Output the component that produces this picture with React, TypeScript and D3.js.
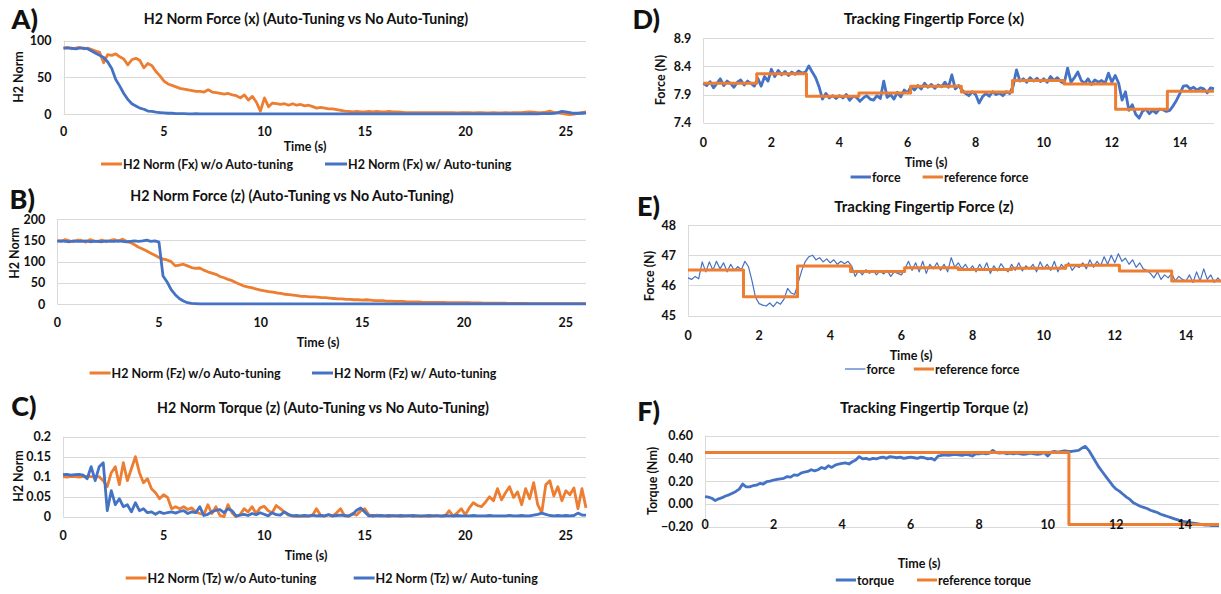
import React from "react";
import * as d3 from "d3";

// sample spacing of the logged runs (s)
const dtLeft = 0.2;
const dtRight = 0.1;

const leftTimeTicks = [0, 5, 10, 15, 20, 25];
const rightTimeTicks = [0, 2, 4, 6, 8, 10, 12, 14];

// A) H2 norm of Fx
const fxWithout = [
  90, 91, 89, 90, 91, 89, 90, 88, 86, 84,
  70, 81, 80, 82, 78, 75, 67, 74, 76, 73,
  63, 69, 66, 58, 52, 45, 41, 39, 37, 35,
  34, 33, 32, 31, 31, 30, 33, 30, 29, 28,
  27, 28, 26, 25, 22, 26, 19, 24, 16, 4,
  22, 10, 15, 14, 13, 14, 12, 14, 12, 13,
  11, 12, 10, 8, 9, 8, 7, 7, 6, 5,
  4, 3.5, 3, 3.5, 3, 3, 3.5, 3, 3.5, 3,
  3, 3.5, 3, 3, 2.5, 2, 2, 2, 2, 2,
  2, 2, 2, 2, 2, 2, 2, 2, 1.5, 2,
  2, 2, 1.5, 2, 2, 1.5, 1.5, 2, 1.5, 1.5,
  2, 1.5, 2, 2, 2, 2.5, 3, 2.5, 2, 2,
  2.5, 4, 2, 2, 1, 0, -1, 0, 1, 2,
  3,
];
const fxWith = [
  90, 90, 90, 89, 90, 90, 89, 86, 83, 80,
  77, 71, 62, 47, 38, 28, 20, 14, 11, 8,
  6.5, 4, 3.5, 2.5, 2, 1.5, 1, 1, 0.5, 0.5,
  0.4, 0.3, 0.3, 0.4, 0.3, 0.3, 0.2, 0.3, 0.3, 0.2,
  0.3, 0.3, 0.2, 0.3, 0.3, 0.2, 0.3, 0.3, 0.3, 0.2,
  0.3, 0.2, 0.3, 0.3, 0.2, 0.3, 0.3, 0.2, 0.3, 0.3,
  0.2, 0.3, 0.3, 0.2, 0.3, 0.3, 0.3, 0.2, 0.3, 0.3,
  0.3, 0.2, 0.3, 0.3, 0.2, 0.3, 0.3, 0.3, 0.2, 0.3,
  0.3, 0.3, 0.2, 0.3, 0.3, 0.2, 0.3, 0.3, 0.3, 0.2,
  0.3, 0.2, 0.3, 0.3, 0.3, 0.2, 0.3, 0.3, 0.2, 0.3,
  0.3, 0.3, 0.2, 0.3, 0.3, 0.3, 0.2, 0.3, 0.3, 0.3,
  0.3, 0.2, 0.3, 0.3, 0.3, 0.2, 0.4, 0.3, 0.3, 0.4,
  0.5, 0.5, 1, 2, 3.5, 3, 2, 1, 1, 1,
  1.5,
];

// B) H2 norm of Fz
const fzWithout = [
  150, 148, 152, 149, 147, 151, 150, 146, 152, 149,
  148, 151, 147, 150, 152, 148, 153, 148, 145, 140,
  134, 130, 125, 120, 115, 110, 106, 104, 100, 90,
  92, 94, 90, 86, 84, 85, 80, 76, 73, 70,
  65, 62, 58, 55, 50, 46, 42, 40, 38, 35,
  33, 31, 29, 28, 26, 25, 23, 22, 21, 20,
  18, 18, 17, 17, 16, 15, 15, 14, 13, 12,
  12, 11, 11, 10, 10, 9, 10, 9, 8, 8,
  8, 7, 7, 6, 6, 6, 5, 5, 5, 5,
  4, 4, 4, 4, 3.5, 3.5, 3, 3, 3, 3,
  3, 3, 2.5, 2.5, 2.5, 2, 2, 2, 2, 2,
  2, 1.5, 1.5, 1.5, 1.5, 1.5, 1, 1, 1, 1,
  1, 1, 1, 1, 1, 1, 1, 1, 1, 1,
  1,
];
const fzWith = [
  148, 149, 148, 147, 149, 148, 148, 149, 147, 148,
  148, 147, 149, 148, 148, 149, 148, 147, 148, 149,
  148, 149, 151, 148, 149, 146, 66, 52, 34, 22,
  13, 7, 3, 1.5, 1, 0.5, 0.5, 0.5, 0.5, 0.5,
  0.3, 0.3, 0.3, 0.3, 0.3, 0.3, 0.3, 0.3, 0.3, 0.3,
  0.3, 0.3, 0.3, 0.3, 0.3, 0.3, 0.3, 0.3, 0.3, 0.3,
  0.3, 0.3, 0.3, 0.3, 0.3, 0.3, 0.3, 0.3, 0.3, 0.3,
  0.3, 0.3, 0.3, 0.3, 0.3, 0.3, 0.3, 0.3, 0.3, 0.3,
  0.3, 0.3, 0.3, 0.3, 0.3, 0.3, 0.3, 0.3, 0.3, 0.3,
  0.3, 0.3, 0.3, 0.3, 0.3, 0.3, 0.3, 0.3, 0.3, 0.3,
  0.3, 0.3, 0.3, 0.3, 0.3, 0.3, 0.3, 0.3, 0.3, 0.3,
  0.3, 0.3, 0.3, 0.3, 0.3, 0.3, 0.3, 0.3, 0.3, 0.3,
  0.3, 0.3, 0.3, 0.3, 0.3, 0.3, 0.3, 0.3, 0.3, 0.3,
  0.3,
];

// C) H2 norm of Tz
const tzWithout = [
  0.1, 0.099, 0.101, 0.1, 0.099, 0.1, 0.101, 0.1, 0.099, 0.1,
  0.09, 0.075, 0.11, 0.125, 0.08, 0.135, 0.09, 0.12, 0.15, 0.11,
  0.085, 0.095, 0.07, 0.06, 0.045, 0.055, 0.048, 0.02, 0.025, 0.02,
  0.025, 0.018, 0.022, 0.012, 0.008, 0.005, 0.03, 0.008, 0.025, 0.003,
  0.0, 0.03, 0.01, 0.0, 0.005, 0.02, 0.012, 0.025, 0.008, 0.022,
  0.026, 0.015, 0.01, 0.028, 0.02, 0.012, 0.004, 0.002, 0.001, 0.001,
  0.002, 0.001, 0.003, 0.02, 0.004, 0.001, 0.005, 0.001, 0.01, 0.02,
  0.002, 0.001, 0.008, 0.004, 0.015, 0.02, 0.005, 0.001, 0.004, 0.002,
  0.002, 0.001, 0.003, 0.002, 0.001, 0.002, 0.003, 0.001, 0.002, 0.001,
  0.002, 0.001, 0.002, 0.003, 0.001, 0.002, 0.015, 0.001, 0.01, 0.02,
  0.005, 0.022, 0.035, 0.028, 0.025, 0.036, 0.05, 0.04, 0.07, 0.042,
  0.06, 0.075, 0.048, 0.062, 0.03, 0.07, 0.045, 0.085, 0.03, 0.01,
  0.08, 0.09, 0.052, 0.075, 0.04, 0.065, 0.055, 0.072, 0.02, 0.07,
  0.022,
];
const tzWith = [
  0.105, 0.106, 0.104, 0.105, 0.106, 0.104, 0.095, 0.125, 0.09, 0.125,
  0.135, 0.015, 0.065, 0.03, 0.045, 0.025, 0.03, 0.012, 0.035, 0.015,
  0.02, 0.01, 0.012, 0.006, 0.012, 0.008, 0.01, 0.012, 0.009, 0.013,
  0.015, 0.008, 0.012, 0.01, 0.025, 0.003, 0.006, 0.012, 0.016, 0.018,
  0.01, 0.02, 0.015, 0.002, 0.004, 0.006, 0.003, 0.008, 0.005, 0.01,
  0.006, 0.002, 0.01, 0.005, 0.004, 0.012, 0.006, 0.002, 0.003, 0.002,
  0.003, 0.002, 0.004, 0.002, 0.003, 0.002, 0.005, 0.002, 0.003, 0.004,
  0.003, 0.002, 0.006, 0.016, 0.022, 0.012, 0.002, 0.003, 0.002, 0.003,
  0.002, 0.003, 0.002, 0.002, 0.003, 0.002, 0.002, 0.003, 0.002, 0.002,
  0.002, 0.003, 0.002, 0.002, 0.002, 0.003, 0.002, 0.002, 0.003, 0.002,
  0.002, 0.002, 0.003, 0.002, 0.002, 0.002, 0.003, 0.002, 0.002, 0.002,
  0.002, 0.003, 0.002, 0.002, 0.003, 0.002, 0.002, 0.004, 0.006, 0.009,
  0.006, 0.003, 0.002, 0.003, 0.002, 0.003, 0.002, 0.003, 0.009, 0.004,
  0.004,
];

// D) fingertip force x
const forceX = [
  8.10, 8.06, 8.13, 8.02, 8.10, 8.18, 8.06, 8.14, 8.10, 8.03,
  8.12, 8.16, 8.07, 8.14, 8.10, 8.05, 8.19, 8.05, 8.22, 8.14,
  8.35, 8.22, 8.33, 8.25, 8.31, 8.24, 8.30, 8.26, 8.32, 8.28,
  8.30, 8.41, 8.30, 8.20, 8.04, 7.82, 7.92, 7.84, 7.88, 7.83,
  7.88, 7.84, 7.90, 7.80, 7.87, 7.85, 7.78, 7.84, 7.88, 7.82,
  7.80, 7.88, 7.83, 8.14, 7.85, 7.90, 7.82, 7.94, 7.86, 7.98,
  7.93, 8.04, 7.98, 8.06, 8.00, 8.10, 8.03, 8.08, 8.01, 8.07,
  8.04, 8.12, 8.03, 8.25, 8.00, 8.06, 7.98, 7.92, 7.88, 7.95,
  7.90, 7.75, 7.86, 7.92, 7.87, 7.95, 7.90, 7.93, 7.88, 7.95,
  7.92, 8.05, 8.34, 8.14, 8.18, 8.12, 8.20, 8.14, 8.19, 8.13,
  8.18, 8.12, 8.22, 8.15, 8.20, 8.13, 8.10, 8.37, 8.12, 8.20,
  8.30, 8.15, 8.10, 8.18, 8.08, 8.16, 8.12, 8.15, 8.10, 8.28,
  8.12, 8.24, 8.10, 7.80, 7.95, 7.62, 7.72, 7.55, 7.48, 7.60,
  7.64, 7.56, 7.62, 7.57, 7.64, 7.63, 7.60, 7.62, 7.70, 7.80,
  7.92, 8.05, 8.06, 8.00, 8.03, 7.98, 8.02, 8.00, 7.93, 8.02,
  8.00,
];
const refXTimes = [0, 1.57, 3.03, 4.57, 6.09, 7.58, 9.08, 10.6, 12.11, 13.63, 15];
const refXLevels = [8.10, 8.27, 7.87, 7.93, 8.05, 7.945, 8.15, 8.09, 7.64, 7.96, 7.96];

// E) fingertip force z
const forceZ = [
  46.25, 46.20, 46.30, 46.22, 46.78, 46.45, 46.78, 46.50, 46.80, 46.55,
  46.75, 46.45, 46.70, 46.50, 46.62, 46.52, 46.80, 46.62, 46.15, 45.60,
  45.40, 45.35, 45.32, 45.42, 45.30, 45.45, 45.38, 45.55, 45.90, 45.75,
  45.70, 46.10, 46.50, 46.80, 46.95, 47.00, 46.85, 46.92, 46.78, 46.88,
  46.75, 46.85, 46.70, 46.80, 46.72, 46.80, 46.65, 46.30, 46.50, 46.35,
  46.52, 46.40, 46.50, 46.35, 46.48, 46.38, 46.50, 46.30, 46.45, 46.40,
  46.35, 46.55, 46.80, 46.50, 46.75, 46.45, 46.80, 46.40, 46.70, 46.55,
  46.75, 46.50, 46.70, 46.45, 46.92, 46.60, 46.75, 46.55, 46.70, 46.50,
  46.65, 46.45, 46.70, 46.50, 46.75, 46.40, 46.65, 46.48, 46.72, 46.55,
  46.45, 46.70, 46.50, 46.75, 46.48, 46.65, 46.55, 46.70, 46.45, 46.78,
  46.55, 46.70, 46.50, 46.80, 46.45, 46.70, 46.55, 46.75, 46.50, 46.65,
  46.60, 46.75, 46.55, 46.85, 46.60, 46.80, 46.65, 46.95, 46.70, 47.00,
  46.75, 47.05, 46.80, 46.90, 46.70, 46.85, 46.60, 46.75, 46.55, 46.50,
  46.40, 46.25, 46.45, 46.20, 46.35, 46.25, 46.40, 46.15, 46.30, 46.20,
  46.15, 46.35, 46.10, 46.45, 46.15, 46.55, 46.20, 46.35, 46.10, 46.25,
  46.10,
];
const refZTimes = [0, 1.56, 3.08, 4.57, 6.09, 7.6, 9.1, 10.62, 12.13, 13.6, 15];
const refZLevels = [46.51, 45.63, 46.64, 46.46, 46.59, 46.53, 46.57, 46.67, 46.48, 46.15, 46.15];

// F) fingertip torque z
const torqueZ = [
  0.065, 0.06, 0.05, 0.03, 0.045, 0.055, 0.07, 0.08, 0.095, 0.11,
  0.13, 0.175, 0.15, 0.15, 0.16, 0.165, 0.18, 0.175, 0.195, 0.2,
  0.21, 0.215, 0.22, 0.225, 0.24, 0.235, 0.255, 0.25, 0.27, 0.28,
  0.285, 0.3, 0.29, 0.3, 0.32, 0.31, 0.335, 0.32, 0.34, 0.35,
  0.355, 0.36, 0.35, 0.37, 0.385, 0.415, 0.395, 0.4, 0.39, 0.4,
  0.395, 0.405, 0.41, 0.4, 0.415, 0.41, 0.405, 0.41, 0.4, 0.405,
  0.41, 0.405, 0.4, 0.41, 0.405, 0.395, 0.4, 0.385, 0.42, 0.425,
  0.43, 0.425, 0.43, 0.435, 0.43, 0.425, 0.435, 0.43, 0.42, 0.44,
  0.44, 0.445, 0.44, 0.445, 0.47, 0.45, 0.445, 0.45, 0.44, 0.445,
  0.44, 0.445, 0.44, 0.435, 0.44, 0.445, 0.44, 0.435, 0.44, 0.45,
  0.42, 0.455, 0.46, 0.455, 0.46, 0.465, 0.46, 0.46, 0.465, 0.47,
  0.49, 0.505, 0.47, 0.42, 0.37, 0.32, 0.28, 0.24, 0.2, 0.16,
  0.13, 0.11, 0.085, 0.06, 0.04, 0.01, -0.005, -0.02, -0.03, -0.04,
  -0.055, -0.065, -0.075, -0.09, -0.1, -0.11, -0.12, -0.13, -0.14, -0.15,
  -0.155, -0.16, -0.165, -0.17, -0.175, -0.18, -0.185, -0.185, -0.19, -0.19,
  -0.19,
];
const refTorqueTimes = [0, 10.62, 15];
const refTorqueLevels = [0.452, -0.18, -0.18];

const titles = [
  "H2 Norm Force (x) (Auto-Tuning vs No Auto-Tuning)",
  "H2 Norm Force (z) (Auto-Tuning vs No Auto-Tuning)",
  "H2 Norm Torque (z) (Auto-Tuning vs No Auto-Tuning)",
  "Tracking Fingertip Force (x)",
  "Tracking Fingertip  Force (z)",
  "Tracking Fingertip Torque (z)",
];
const legendA = ["H2 Norm (Fx) w/o Auto-tuning", "H2 Norm (Fx) w/ Auto-tuning"];
const legendB = ["H2 Norm (Fz) w/o Auto-tuning", "H2 Norm (Fz) w/ Auto-tuning"];
const legendC = ["H2 Norm (Tz) w/o Auto-tuning", "H2 Norm (Tz) w/ Auto-tuning"];
const legendD = ["force", "reference force"];
const legendE = ["force", "reference force"];
const legendF = ["torque", "reference torque"];

const ORANGE = "#ED7D31";
const BLUE = "#4472C4";
const GRID = "#D9D9D9";
const INK = "#111";
const FONT = "Lato, 'Open Sans', sans-serif";

const clock = (values: number[], dt: number) => values.map((_, i) => i * dt);

type Series = { t: number[]; v: number[]; color: string; width: number; step?: boolean };
type LegendItem = { x1: number; x2: number; label: string; color: string; width: number };
type PanelProps = {
  letter: string; letterX: number; letterY: number;
  title: string; titleX: number; titleY: number; titleSize: number;
  xDomain: [number, number]; xRange: [number, number]; xTicks: number[]; xLabelY: number;
  yDomain: [number, number]; yRange: [number, number]; yTicks: number[]; yFormat: (d: number) => string;
  yTitle: string; yTitleX: number; yTitleY: number;
  xTitleX: number; xTitleY: number;
  series: Series[]; legend: LegendItem[]; legendY: number; fs: number;
};

function Panel(p: PanelProps) {
  const x = d3.scaleLinear().domain(p.xDomain).range(p.xRange);
  const y = d3.scaleLinear().domain(p.yDomain).range(p.yRange);
  const crisp = (v: number) => Math.round(v) + 0.5;
  return (
    <g fontFamily={FONT} fill={INK}>
      <text x={p.letterX} y={p.letterY} textAnchor="end" dominantBaseline="central" fontSize={27} fontWeight={900}>{p.letter}</text>
      <text x={p.titleX} y={p.titleY} textAnchor="middle" dominantBaseline="central" fontSize={p.titleSize} fontWeight={700}>{p.title}</text>
      {p.yTicks.map((t) => (
        <line key={"g" + t} x1={p.xRange[0]} x2={p.xRange[1]} y1={crisp(y(t))} y2={crisp(y(t))} stroke={GRID} strokeWidth={1} />
      ))}
      <line x1={crisp(p.xRange[0])} x2={crisp(p.xRange[0])} y1={y(p.yDomain[0])} y2={y(p.yDomain[1])} stroke={GRID} strokeWidth={1} />
      {p.series.map((s, i) => {
        const line = d3.line<number>().x((_, j) => x(s.t[j])).y((d) => y(d));
        if (s.step) line.curve(d3.curveStepAfter);
        return <path key={i} d={line(s.v) || ""} fill="none" stroke={s.color} strokeWidth={s.width} strokeLinejoin="round" />;
      })}
      {p.yTicks.map((t) => (
        <text key={"y" + t} x={p.xRange[0] - 12} y={y(t)} textAnchor="end" dominantBaseline="central" fontSize={p.fs} fontWeight={700}>{p.yFormat(t)}</text>
      ))}
      {p.xTicks.map((t) => (
        <text key={"x" + t} x={x(t)} y={p.xLabelY} textAnchor="middle" dominantBaseline="central" fontSize={p.fs} fontWeight={700}>{t}</text>
      ))}
      <text x={p.xTitleX} y={p.xTitleY} textAnchor="middle" dominantBaseline="central" fontSize={p.fs} fontWeight={700}>Time (s)</text>
      <text transform={`translate(${p.yTitleX},${p.yTitleY}) rotate(-90)`} textAnchor="middle" dominantBaseline="central" fontSize={p.fs} fontWeight={700}>{p.yTitle}</text>
      {p.legend.map((l, i) => (
        <g key={"l" + i}>
          <line x1={l.x1} x2={l.x2} y1={p.legendY} y2={p.legendY} stroke={l.color} strokeWidth={l.width} />
          <text x={l.x2 + 1} y={p.legendY} dominantBaseline="central" fontSize={p.fs} fontWeight={700}>{l.label}</text>
        </g>
      ))}
    </g>
  );
}

export default function App() {
  const fmtPlain = (d: number) => String(d);
  const panels: PanelProps[] = [
    {
      letter: "A)", letterX: 38, letterY: 18, title: titles[0], titleX: 306, titleY: 18, titleSize: 14.2,
      xDomain: [0, 26], xRange: [63.5, 586], xTicks: leftTimeTicks, xLabelY: 131,
      yDomain: [0, 100], yRange: [114, 40.7], yTicks: [0, 50, 100], yFormat: fmtPlain,
      yTitle: "H2 Norm", yTitleX: 18, yTitleY: 77, xTitleX: 305, xTitleY: 146,
      series: [
        { t: clock(fxWithout, dtLeft), v: fxWithout, color: ORANGE, width: 2.8 },
        { t: clock(fxWith, dtLeft), v: fxWith, color: BLUE, width: 2.8 },
      ],
      legend: [
        { x1: 101, x2: 122, label: legendA[0], color: ORANGE, width: 3 },
        { x1: 325, x2: 347, label: legendA[1], color: BLUE, width: 3 },
      ],
      legendY: 164, fs: 12.5,
    },
    {
      letter: "B)", letterX: 35, letterY: 198, title: titles[1], titleX: 292, titleY: 195, titleSize: 14.2,
      xDomain: [0, 26], xRange: [57.3, 586], xTicks: leftTimeTicks, xLabelY: 322.7,
      yDomain: [0, 200], yRange: [304, 219.3], yTicks: [0, 50, 100, 150, 200], yFormat: fmtPlain,
      yTitle: "H2 Norm", yTitleX: 14, yTitleY: 253, xTitleX: 318, xTitleY: 342.7,
      series: [
        { t: clock(fzWithout, dtLeft), v: fzWithout, color: ORANGE, width: 2.8 },
        { t: clock(fzWith, dtLeft), v: fzWith, color: BLUE, width: 2.8 },
      ],
      legend: [
        { x1: 89.6, x2: 110.6, label: legendB[0], color: ORANGE, width: 3 },
        { x1: 312, x2: 333, label: legendB[1], color: BLUE, width: 3 },
      ],
      legendY: 373, fs: 12.5,
    },
    {
      letter: "C)", letterX: 36.5, letterY: 405, title: titles[2], titleX: 323, titleY: 407, titleSize: 14.2,
      xDomain: [0, 26], xRange: [63, 586], xTicks: leftTimeTicks, xLabelY: 535,
      yDomain: [0, 0.2], yRange: [516.7, 436.7], yTicks: [0, 0.05, 0.1, 0.15, 0.2], yFormat: fmtPlain,
      yTitle: "H2 Norm", yTitleX: 18, yTitleY: 476, xTitleX: 306, xTitleY: 555,
      series: [
        { t: clock(tzWithout, dtLeft), v: tzWithout, color: ORANGE, width: 2.8 },
        { t: clock(tzWith, dtLeft), v: tzWith, color: BLUE, width: 2.8 },
      ],
      legend: [
        { x1: 125.7, x2: 146.6, label: legendC[0], color: ORANGE, width: 3 },
        { x1: 353.7, x2: 374.6, label: legendC[1], color: BLUE, width: 3 },
      ],
      legendY: 578, fs: 12.5,
    },
    {
      letter: "D)", letterX: 660, letterY: 18, title: titles[3], titleX: 934, titleY: 18, titleSize: 15,
      xDomain: [0, 15], xRange: [703.3, 1214], xTicks: rightTimeTicks, xLabelY: 142,
      yDomain: [7.4, 8.9], yRange: [122.7, 38.3], yTicks: [7.4, 7.9, 8.4, 8.9], yFormat: d3.format(".1f"),
      yTitle: "Force (N)", yTitleX: 660, yTitleY: 80, xTitleX: 926, xTitleY: 162,
      series: [
        { t: clock(forceX, dtRight), v: forceX, color: BLUE, width: 2.8 },
        { t: refXTimes, v: refXLevels, color: ORANGE, width: 3, step: true },
      ],
      legend: [
        { x1: 850.6, x2: 871, label: legendD[0], color: BLUE, width: 3 },
        { x1: 922.6, x2: 943, label: legendD[1], color: ORANGE, width: 3 },
      ],
      legendY: 177, fs: 12.5,
    },
    {
      letter: "E)", letterX: 660, letterY: 205, title: titles[4], titleX: 924, titleY: 206, titleSize: 15,
      xDomain: [0, 15], xRange: [688, 1221.5], xTicks: rightTimeTicks, xLabelY: 335,
      yDomain: [45, 48], yRange: [315.7, 225], yTicks: [45, 46, 47, 48], yFormat: fmtPlain,
      yTitle: "Force (N)", yTitleX: 649.5, yTitleY: 276, xTitleX: 911, xTitleY: 355.7,
      series: [
        { t: clock(forceZ, dtRight), v: forceZ, color: BLUE, width: 1.2 },
        { t: refZTimes, v: refZLevels, color: ORANGE, width: 3, step: true },
      ],
      legend: [
        { x1: 845, x2: 865.4, label: legendE[0], color: BLUE, width: 1.2 },
        { x1: 913.8, x2: 934, label: legendE[1], color: ORANGE, width: 3 },
      ],
      legendY: 369, fs: 12.5,
    },
    {
      letter: "F)", letterX: 660, letterY: 410, title: titles[5], titleX: 934, titleY: 407, titleSize: 15,
      xDomain: [0, 15], xRange: [705, 1219], xTicks: rightTimeTicks, xLabelY: 524,
      yDomain: [-0.2, 0.6], yRange: [526.8, 435.5], yTicks: [-0.2, 0, 0.2, 0.4, 0.6], yFormat: d3.format(".2f"),
      yTitle: "Torque (Nm)", yTitleX: 652.7, yTitleY: 481, xTitleX: 919, xTitleY: 563,
      series: [
        { t: clock(torqueZ, dtRight), v: torqueZ, color: BLUE, width: 2.8 },
        { t: refTorqueTimes, v: refTorqueLevels, color: ORANGE, width: 3, step: true },
      ],
      legend: [
        { x1: 835.8, x2: 856, label: legendF[0], color: BLUE, width: 3 },
        { x1: 917, x2: 937, label: legendF[1], color: ORANGE, width: 3 },
      ],
      legendY: 580, fs: 12.5,
    },
  ];
  return (
    <svg width={1221} height={594} style={{ position: "absolute", left: 0, top: 0, background: "#fff" }}>
      {panels.map((p) => (
        <Panel key={p.letter} {...p} />
      ))}
    </svg>
  );
}
